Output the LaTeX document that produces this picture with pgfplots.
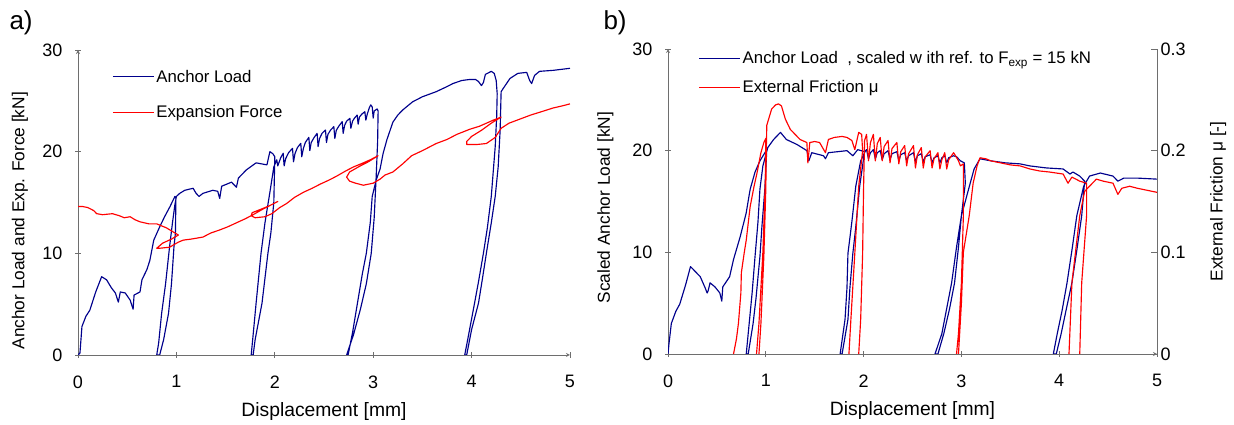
\documentclass[border=0pt]{standalone}
\usepackage{fontspec}
\setmainfont{Liberation Sans}
\usepackage{pgfplots}
\pgfplotsset{compat=1.18}
\definecolor{navy}{RGB}{0,0,140}
\definecolor{axgray}{RGB}{110,110,110}

\tikzset{
  blu/.style={color=navy, line width=1.15pt, line join=round},
  rd/.style={color=red, line width=1.15pt, line join=round},
}
\pgfplotsset{
  legend image code/.code={\draw[#1] (0pt,0pt) -- (41pt,0pt);},
  panel/.style={
    scale only axis, width=490pt, height=305pt,
    xmin=0, xmax=5, ymin=0, ymax=30,
    xtick={0,1,2,3,4,5}, ytick={0,10,20,30},
    tick align=inside, major tick length=6pt,
    axis line style={-, axgray, line width=0.8pt},
    every tick/.style={axgray, line width=0.8pt},
    /pgf/number format/assume math mode=true,
    tick label style={font=\fontsize{18}{20}\selectfont},
    xlabel style={font=\fontsize{19.3}{21}\selectfont, at={(axis description cs:0.5,-0.186)}, anchor=center},
    ylabel style={font=\fontsize{17.3}{19}\selectfont},
    xticklabel style={yshift=-14pt},
    yticklabel style={xshift=-9pt},
    legend cell align=left,
  },
}

\begin{document}
\begin{tikzpicture}
\useasboundingbox (0pt,0pt) rectangle (1234pt,425pt);

% ---------- a) ----------
\begin{axis}[panel, at={(78pt,70pt)}, anchor=south west, width=492pt,
  axis x line=bottom, axis y line=left,
  xlabel={Displacement [mm]},
  ylabel={Anchor Load and Exp. Force [kN]},
  ylabel style={at={(axis description cs:-0.118,0.44)}, anchor=center},
  legend style={at={(axis description cs:0.063,0.948)}, anchor=north west,
    draw=none, fill=none, font=\fontsize{16.8}{18}\selectfont, row sep=18pt}]
\addplot[blu] coordinates {
(0,0) (0.02,0.2) (0.04,2.8) (0.08,3.8) (0.12,4.4) (0.18,6.2) (0.24,7.7) (0.29,7.4) (0.34,6.6)
(0.38,6.1) (0.41,5.2) (0.43,6.2) (0.48,6.1) (0.53,5.4) (0.56,4.5) (0.57,5.9) (0.63,6.2) (0.65,7.4)
(0.70,8.4) (0.73,9.3) (0.77,11.3) (0.83,12.6) (0.88,13.6) (0.935,14.6) (0.985,15.6)
(0.995,15.4) (0.99,12) (0.975,10.6) (0.95,7) (0.92,4.1) (0.87,1.5) (0.83,0)
(0.80,0) (0.82,1.2) (0.85,4.1) (0.89,7) (0.93,10.6) (0.96,13) (0.985,14.8) (1.0,15.6)
(1.034,15.9) (1.085,16.2) (1.17,16.4) (1.20,15.9) (1.23,15.6) (1.27,15.9) (1.37,16.2) (1.42,16.1)
(1.44,15.4) (1.46,16.6) (1.56,17.0) (1.59,16.7) (1.61,16.5) (1.63,17.4) (1.71,18.2) (1.81,18.9)
(1.92,18.7) (1.95,20.0) (1.98,19.8) (2.0,19.5)
(1.99,15) (1.96,12) (1.93,10) (1.87,5.1) (1.80,1.5) (1.78,0)
(1.76,0) (1.78,2) (1.81,5.1) (1.86,10) (1.90,13) (1.95,16) (1.99,18.5) (2.02,19.2)
(2.03,18.6) (2.06,19.4) (2.085,19.84) (2.095,18.6) (2.11,19.3) (2.14,19.9) (2.18,20.33) (2.19,19.0)
(2.205,19.8) (2.23,20.4) (2.264,20.82) (2.274,19.5) (2.29,20.3) (2.31,20.9) (2.346,21.41) (2.356,20.1)
(2.37,20.9) (2.40,21.4) (2.43,21.8) (2.44,20.5) (2.455,21.3) (2.48,21.8) (2.515,22.13) (2.525,20.9)
(2.54,21.7) (2.565,22.1) (2.6,22.46) (2.61,21.3) (2.625,22.1) (2.65,22.5) (2.685,22.95) (2.695,21.8)
(2.71,22.6) (2.73,23.0) (2.763,23.28) (2.773,22.3) (2.79,23.0) (2.81,23.3) (2.837,23.6) (2.847,22.7)
(2.86,23.4) (2.885,23.7) (2.915,23.93) (2.925,23.1) (2.94,23.7) (2.96,24.3) (2.975,24.6) (2.99,24.4)
(3.0,23.3) (3.01,24.0) (3.04,24.2) (3.05,24.0)
(3.045,21) (3.03,17.5) (3.01,13.5) (2.98,10) (2.93,7) (2.87,4.5) (2.80,2) (2.73,0)
(2.745,0) (2.79,2.2) (2.84,5.1) (2.89,8) (2.93,10) (2.97,13) (2.99,15.6) (3.03,17.2) (3.07,18.3)
(3.10,19.8) (3.14,21.2) (3.20,22.9) (3.25,23.6) (3.30,24.1)
(3.40,24.9) (3.50,25.4) (3.64,25.9) (3.75,26.4) (3.81,26.7) (3.90,27.0) (3.98,27.1) (4.04,27.1)
(4.07,26.9) (4.10,26.5) (4.12,26.8) (4.14,27.6) (4.20,27.9) (4.23,27.7) (4.25,27.0) (4.26,25.7)
(4.255,23.5) (4.24,20.5) (4.20,15.6) (4.16,12.5) (4.12,10) (4.07,7.2) (4.03,5.1) (3.96,1.5) (3.93,0)
(3.95,0) (4.0,2.5) (4.07,5.1) (4.11,7.5) (4.15,10) (4.20,13) (4.24,15.6) (4.27,18.5) (4.29,22.1)
(4.30,25.9) (4.32,26.2) (4.39,27.2)
(4.47,27.7) (4.56,27.8) (4.59,27.0) (4.61,26.7) (4.64,27.5) (4.69,27.9) (4.83,28.0) (5.0,28.2)
};
\addlegendentry{Anchor Load}
\addplot[rd] coordinates {
(0,14.6) (0.05,14.6) (0.10,14.5) (0.16,14.2) (0.19,13.9) (0.25,13.8) (0.35,13.9) (0.42,13.7)
(0.47,13.5) (0.53,13.6) (0.58,13.3) (0.63,13.1) (0.72,12.9) (0.80,12.9) (0.85,12.7) (0.90,12.5)
(1.02,11.8) (0.95,11.4) (0.86,11.0) (0.80,10.5) (0.83,10.5) (0.93,10.6) (1.02,11.1)
(1.07,11.3) (1.15,11.4) (1.27,11.6) (1.35,12.0) (1.44,12.3) (1.52,12.6) (1.61,13.0) (1.70,13.4)
(1.78,13.8) (1.87,14.3) (1.95,14.7) (2.03,15.1)
(1.95,14.7) (1.85,14.3) (1.77,14.0) (1.76,13.7) (1.80,13.5) (1.90,13.6) (1.97,13.9) (2.05,14.5)
(2.12,14.9) (2.20,15.5) (2.29,16.0) (2.38,16.4) (2.46,16.8) (2.55,17.2) (2.63,17.6) (2.72,18.1)
(2.80,18.5) (2.90,18.9) (2.97,19.2) (3.05,19.6)
(2.95,19.0) (2.85,18.5) (2.76,18.0) (2.73,17.5) (2.76,17.1) (2.82,16.9) (2.90,16.7) (3.0,16.9)
(3.07,17.3) (3.12,17.7) (3.20,18.0) (3.30,18.8) (3.39,19.6) (3.50,20.1) (3.64,20.8) (3.75,21.2)
(3.85,21.7) (3.98,22.2) (4.08,22.5) (4.15,22.8) (4.22,23.1) (4.30,23.4)
(4.20,22.8) (4.10,22.1) (4.0,21.5) (3.95,21.0) (3.95,20.7) (4.05,20.7) (4.15,20.8) (4.24,21.4)
(4.30,22.3) (4.38,22.8) (4.49,23.2) (4.60,23.6) (4.70,23.9) (4.83,24.3) (4.92,24.5) (5.0,24.7)
};
\addlegendentry{Expansion Force}
\end{axis}

% ---------- b) ----------
\begin{axis}[panel, at={(668pt,71pt)}, anchor=south west, width=489pt,
  axis x line=bottom, axis y line=left,
  xlabel={Displacement [mm]},
  ylabel={Scaled Anchor Load [kN]},
  ylabel style={at={(axis description cs:-0.128,0.48)}, anchor=center},
  legend style={at={(axis description cs:0.056,1.005)}, anchor=north west,
    draw=none, fill=none, font=\fontsize{16.8}{18}\selectfont, row sep=11pt}]
\addplot[blu] coordinates {
(0,0) (0.01,1.0) (0.034,3.0) (0.08,4.2) (0.12,4.9) (0.18,6.8) (0.23,8.6) (0.27,8.2) (0.33,7.6)
(0.38,6.5) (0.40,6.0) (0.41,6.2) (0.43,7.0) (0.48,6.6) (0.53,6.0) (0.55,5.2) (0.56,6.6) (0.63,7.6)
(0.67,9.3) (0.74,11.6) (0.80,13.9) (0.84,16.2) (0.89,17.9) (0.94,19.0) (1.01,20.1)
(0.99,16.2) (0.96,12.5) (0.94,9.6) (0.90,5.5) (0.87,3.0) (0.82,0) (0.80,0) (0.83,3.0) (0.86,6)
(0.89,9.6) (0.92,13) (0.94,16.2) (0.97,18.5)
(1.02,20.3) (1.08,21.1) (1.15,21.8) (1.21,21.1) (1.32,20.6) (1.42,20.0) (1.44,19.0) (1.47,19.8)
(1.59,19.5) (1.61,19.2) (1.64,19.8) (1.83,20.0) (1.89,19.5) (1.94,20.1) (2.01,19.9)
(1.96,16.5) (1.92,12.5) (1.89,9.9) (1.86,6.5) (1.84,3.4) (1.78,0) (1.76,0) (1.81,3.4) (1.83,6.5)
(1.84,9.9) (1.88,13) (1.92,16.5) (1.97,19.0)
(2.02,20.0) (2.03,20.1) (2.05,19.2) (2.07,19.8) (2.10,20.1) (2.12,19.2) (2.14,19.8) (2.17,20.0)
(2.19,19.1) (2.21,19.7) (2.25,20.0) (2.27,19.1) (2.29,19.7) (2.34,19.9) (2.36,19.0) (2.38,19.6)
(2.42,19.8) (2.44,19.0) (2.46,19.5) (2.51,19.8) (2.53,18.9) (2.55,19.5) (2.59,19.7) (2.61,18.9)
(2.63,19.4) (2.68,19.6) (2.70,18.8) (2.72,19.3) (2.76,19.5) (2.78,18.8) (2.80,19.3) (2.83,19.5)
(2.85,18.8) (2.87,19.3) (2.92,19.5) (2.95,19.4) (2.99,19.0) (3.03,18.8)
(3.04,16.8) (3.0,13.6) (2.97,10.5) (2.93,7.0) (2.88,4.5) (2.82,2) (2.76,0) (2.73,0) (2.80,2)
(2.85,4.5) (2.90,7.0) (2.95,10.5) (3.0,13.6)
(3.09,16.8) (3.13,18.2) (3.19,19.2) (3.30,19.0) (3.45,18.8) (3.60,18.7) (3.70,18.5) (3.87,18.3)
(4.04,18.2) (4.11,17.7) (4.14,17.9) (4.21,17.5) (4.26,17.0)
(4.23,13.6) (4.18,10.2) (4.13,7.0) (4.07,4.3) (4.02,2) (3.97,0) (3.94,0) (3.98,2) (4.03,4.3)
(4.08,7.0) (4.13,10.2) (4.18,13.6) (4.25,16.5)
(4.31,17.5) (4.42,17.8) (4.55,17.5) (4.60,17.0) (4.66,17.3) (4.80,17.3) (5.0,17.2)
};
\addlegendentry{Anchor Load\ \ , scaled w ith ref. to F\textsubscript{exp} = 15 kN}
\addlegendimage{rd}
\addlegendentry{External Friction μ}
\end{axis}

\begin{axis}[panel, at={(668pt,71pt)}, anchor=south west, width=489pt,
  ymin=0, ymax=0.3, ytick={0,0.1,0.2,0.3}, yticklabels={0,0.1,0.2,0.3},
  axis y line*=right, axis x line=none,
  yticklabel style={xshift=9pt},
  ylabel={External Friction μ [-]},
  ylabel style={at={(axis description cs:1.125,0.5)}, anchor=center},
  unbounded coords=jump]
\addplot[rd] coordinates {
(0.67,0) (0.70,0.015) (0.72,0.030) (0.745,0.06) (0.75,0.080) (0.78,0.10) (0.80,0.112) (0.84,0.145)
(0.88,0.165) (0.91,0.178) (0.95,0.198) (0.98,0.208) (1.0,0.212)
(0.995,0.17) (0.97,0.10) (0.93,0.03) (0.905,0.0) (0.91,nan)
(0.93,0) (0.95,0.03) (0.98,0.096) (1.0,0.162) (1.005,0.20) (1.01,0.225) (1.06,0.241) (1.10,0.245)
(1.13,0.246) (1.16,0.244) (1.20,0.231) (1.25,0.221) (1.30,0.216) (1.35,0.211) (1.42,0.208) (1.43,0.188)
(1.45,0.208) (1.50,0.209) (1.55,0.208) (1.58,0.203) (1.61,0.198) (1.64,0.211) (1.70,0.213) (1.78,0.214)
(1.83,0.213) (1.88,0.210) (1.91,0.201) (1.95,0.218) (1.98,0.216)
(1.99,0.20) (1.95,0.165) (1.91,0.099) (1.87,0.034) (1.85,0) (1.86,nan)
(1.95,0) (1.97,0.034) (1.99,0.099) (2.0,0.165) (2.01,0.21)
(2.03,0.216) (2.05,0.190) (2.07,0.208) (2.10,0.216) (2.12,0.190) (2.14,0.207) (2.17,0.213) (2.19,0.190)
(2.21,0.204) (2.25,0.210) (2.27,0.188) (2.29,0.202) (2.34,0.208) (2.36,0.187) (2.38,0.199) (2.42,0.205)
(2.44,0.185) (2.46,0.197) (2.51,0.205) (2.53,0.183) (2.55,0.196) (2.59,0.203) (2.61,0.183) (2.63,0.194)
(2.68,0.200) (2.70,0.183) (2.72,0.192) (2.76,0.198) (2.78,0.182) (2.80,0.191) (2.83,0.198) (2.85,0.182)
(2.87,0.191) (2.92,0.198) (2.94,0.195) (2.97,0.190) (2.99,0.185) (3.02,0.187)
(3.02,0.136) (3.0,0.07) (2.97,0.02) (2.95,0) (2.96,nan)
(2.97,0) (3.0,0.05) (3.02,0.10) (3.08,0.136) (3.12,0.168) (3.16,0.185) (3.19,0.193) (3.25,0.192)
(3.30,0.190) (3.40,0.188) (3.50,0.186) (3.60,0.185) (3.70,0.182) (3.80,0.180) (3.90,0.179) (4.04,0.177)
(4.09,0.168) (4.13,0.174) (4.21,0.170) (4.28,0.168)
(4.28,0.136) (4.23,0.07) (4.21,0) (4.20,nan)
(4.10,0) (4.13,0.07) (4.21,0.136) (4.26,0.160) (4.31,0.165) (4.38,0.172) (4.45,0.170) (4.55,0.168)
(4.60,0.157) (4.64,0.163) (4.72,0.165) (4.80,0.163) (4.90,0.161) (5.0,0.159)
};
\end{axis}

\node[font=\fontsize{26}{28}\selectfont, anchor=west] at (6pt,402pt) {a)};
\node[font=\fontsize{26}{28}\selectfont, anchor=west] at (600pt,402pt) {b)};
\end{tikzpicture}
\end{document}
